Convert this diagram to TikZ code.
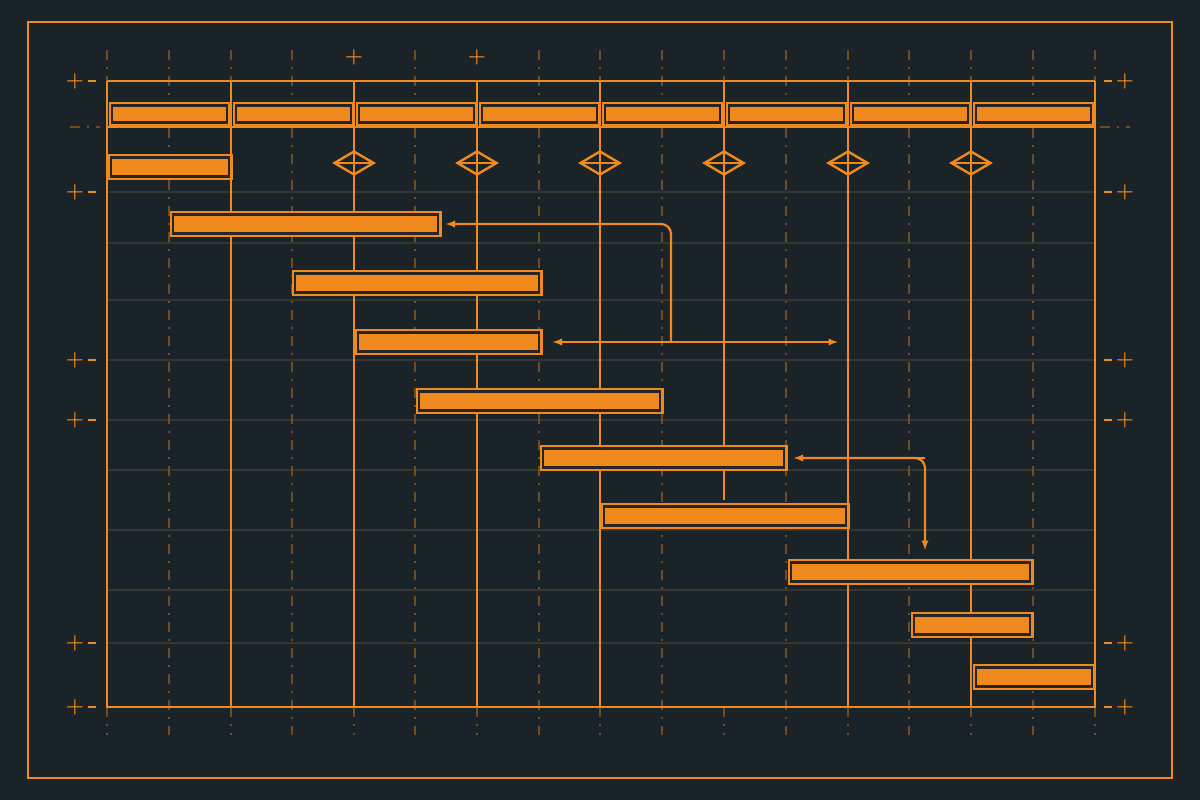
\documentclass[tikz,border=0pt]{standalone}
\usepackage{tikz}
\usepackage{xcolor}
\usetikzlibrary{positioning,shapes.geometric}
\definecolor{bgc}{HTML}{1A2327}
\definecolor{barc}{HTML}{F08A1E}
\definecolor{gridc}{HTML}{34372F}
\tikzset{
  taskbox/.style={draw=barc, double=black!85, double distance=2.2pt, line width=2.6pt, fill=barc, inner sep=0pt, minimum height=19pt, anchor=west},
  milestone/.style={draw=barc, diamond, line width=2.4pt, minimum width=40pt, minimum height=24pt, inner sep=0pt, aspect=1.6},
  major/.style={barc, line width=2.8pt},
  minor/.style={barc!40!bgc, line width=1.5pt, dash pattern=on 10pt off 7pt on 2pt off 7pt},
  faint/.style={gridc, line width=1.2pt},
  link/.style={barc, line width=2.2pt, -latex, rounded corners=10pt},
  tick/.style={barc, font=\huge\bfseries, inner sep=0pt}
}
\begin{document}
\begin{tikzpicture}[x=1pt,y=-1pt]
	\fill[bgc] (0,0) rectangle (1200,800);
	\draw[barc, line width=2.6pt] (28,22) rectangle (1172,778);
	% faint rows
	\foreach \y in {192,243,300,360,420,470,530,590,643} {
		\draw[faint] (107,\y) -- (1095,\y);
	}
	% ticks at the sides
	\foreach \y in {81,192,360,420,643,707} {
		\node[tick] (l\y) at (75,\y) {+};
		\node[tick] (r\y) at (1125,\y) {+};
		\draw[barc, line width=1.5pt] (88,\y) -- (96,\y);
		\draw[barc, line width=1.5pt] (1104,\y) -- (1112,\y);
	}
	\draw[minor] (70,127) -- (100,127);
	\draw[minor] (1100,127) -- (1130,127);
	\node[tick] (p1) at (354,57) {+};
	\node[tick] (p2) at (477,57) {+};
	% minor columns
	\foreach \x in {169,292,415,539,662,786,909,1033} {
		\draw[minor] (\x,50) -- (\x,735);
	}
	\foreach \x in {107,231,600,724,848,971,1095} {
		\draw[minor] (\x,50) -- (\x,81);
	}
	\foreach \x in {107,231,354,477,600,724,848,971,1095} {
		\draw[minor] (\x,707) -- (\x,735);
	}
	% header
	\draw[major] (107,81) -- (1095,81);
	\draw[major] (107,127) -- (1095,127);
	\foreach \x [count=\i] in {107,231,354,477,600,724,848,971} {
		\node[taskbox, minimum height=17pt, minimum width=115pt] (h\i) at (\x+4,114) {};
	}
	% milestones
	\foreach \x [count=\i] in {354,477,600,724,848,971} {
		\node[milestone] (m\i) at (\x,163) {};
		\draw[barc, line width=2pt] (m\i.west) -- (m\i.east);
	}
	% columns
	\draw[major] (107,81) -- (107,707) -- (1095,707) -- (1095,81);
	\draw[major] (231,81) -- (231,707);
	\foreach \i/\x in {1/354,2/477,3/600,5/848,6/971} {
		\draw[major] (\x,81) -- (\x,707);
	}
	\draw[major] (724,81) -- (724,500);
	% tasks
	\node[taskbox, minimum width=118pt] (t1) at (110,167) {};
	\node[taskbox, minimum width=265pt] (t2) at (172,224) {};
	\node[taskbox, minimum width=244pt] (t3) at (294,283) {};
	\node[taskbox, minimum width=181pt] (t4) at (357,342) {};
	\node[taskbox, minimum width=241pt] (t5) at (418,401) {};
	\node[taskbox, minimum width=241pt] (t6) at (542,458) {};
	\node[taskbox, minimum width=242pt] (t7) at (603,516) {};
	\node[taskbox, minimum width=239pt] (t8) at (790,572) {};
	\node[taskbox, minimum width=116pt] (t9) at (913,625) {};
	\node[taskbox, minimum width=116pt] (t10) at (975,677) {};
	% links
	\coordinate (j1) at (838,342);
	\coordinate (j2) at (925,550);
	\draw[link] (671,342) -- (671,224) -- ([xshift=6pt]t2.east);
	\draw[link] (671,342) -- ([xshift=12pt]t4.east);
	\draw[link] (671,342) -- (j1);
	\draw[link] (925,458) -- ([xshift=8pt]t6.east);
	\draw[link] (800,458) -- (925,458) -- (j2);
\end{tikzpicture}
\end{document}
